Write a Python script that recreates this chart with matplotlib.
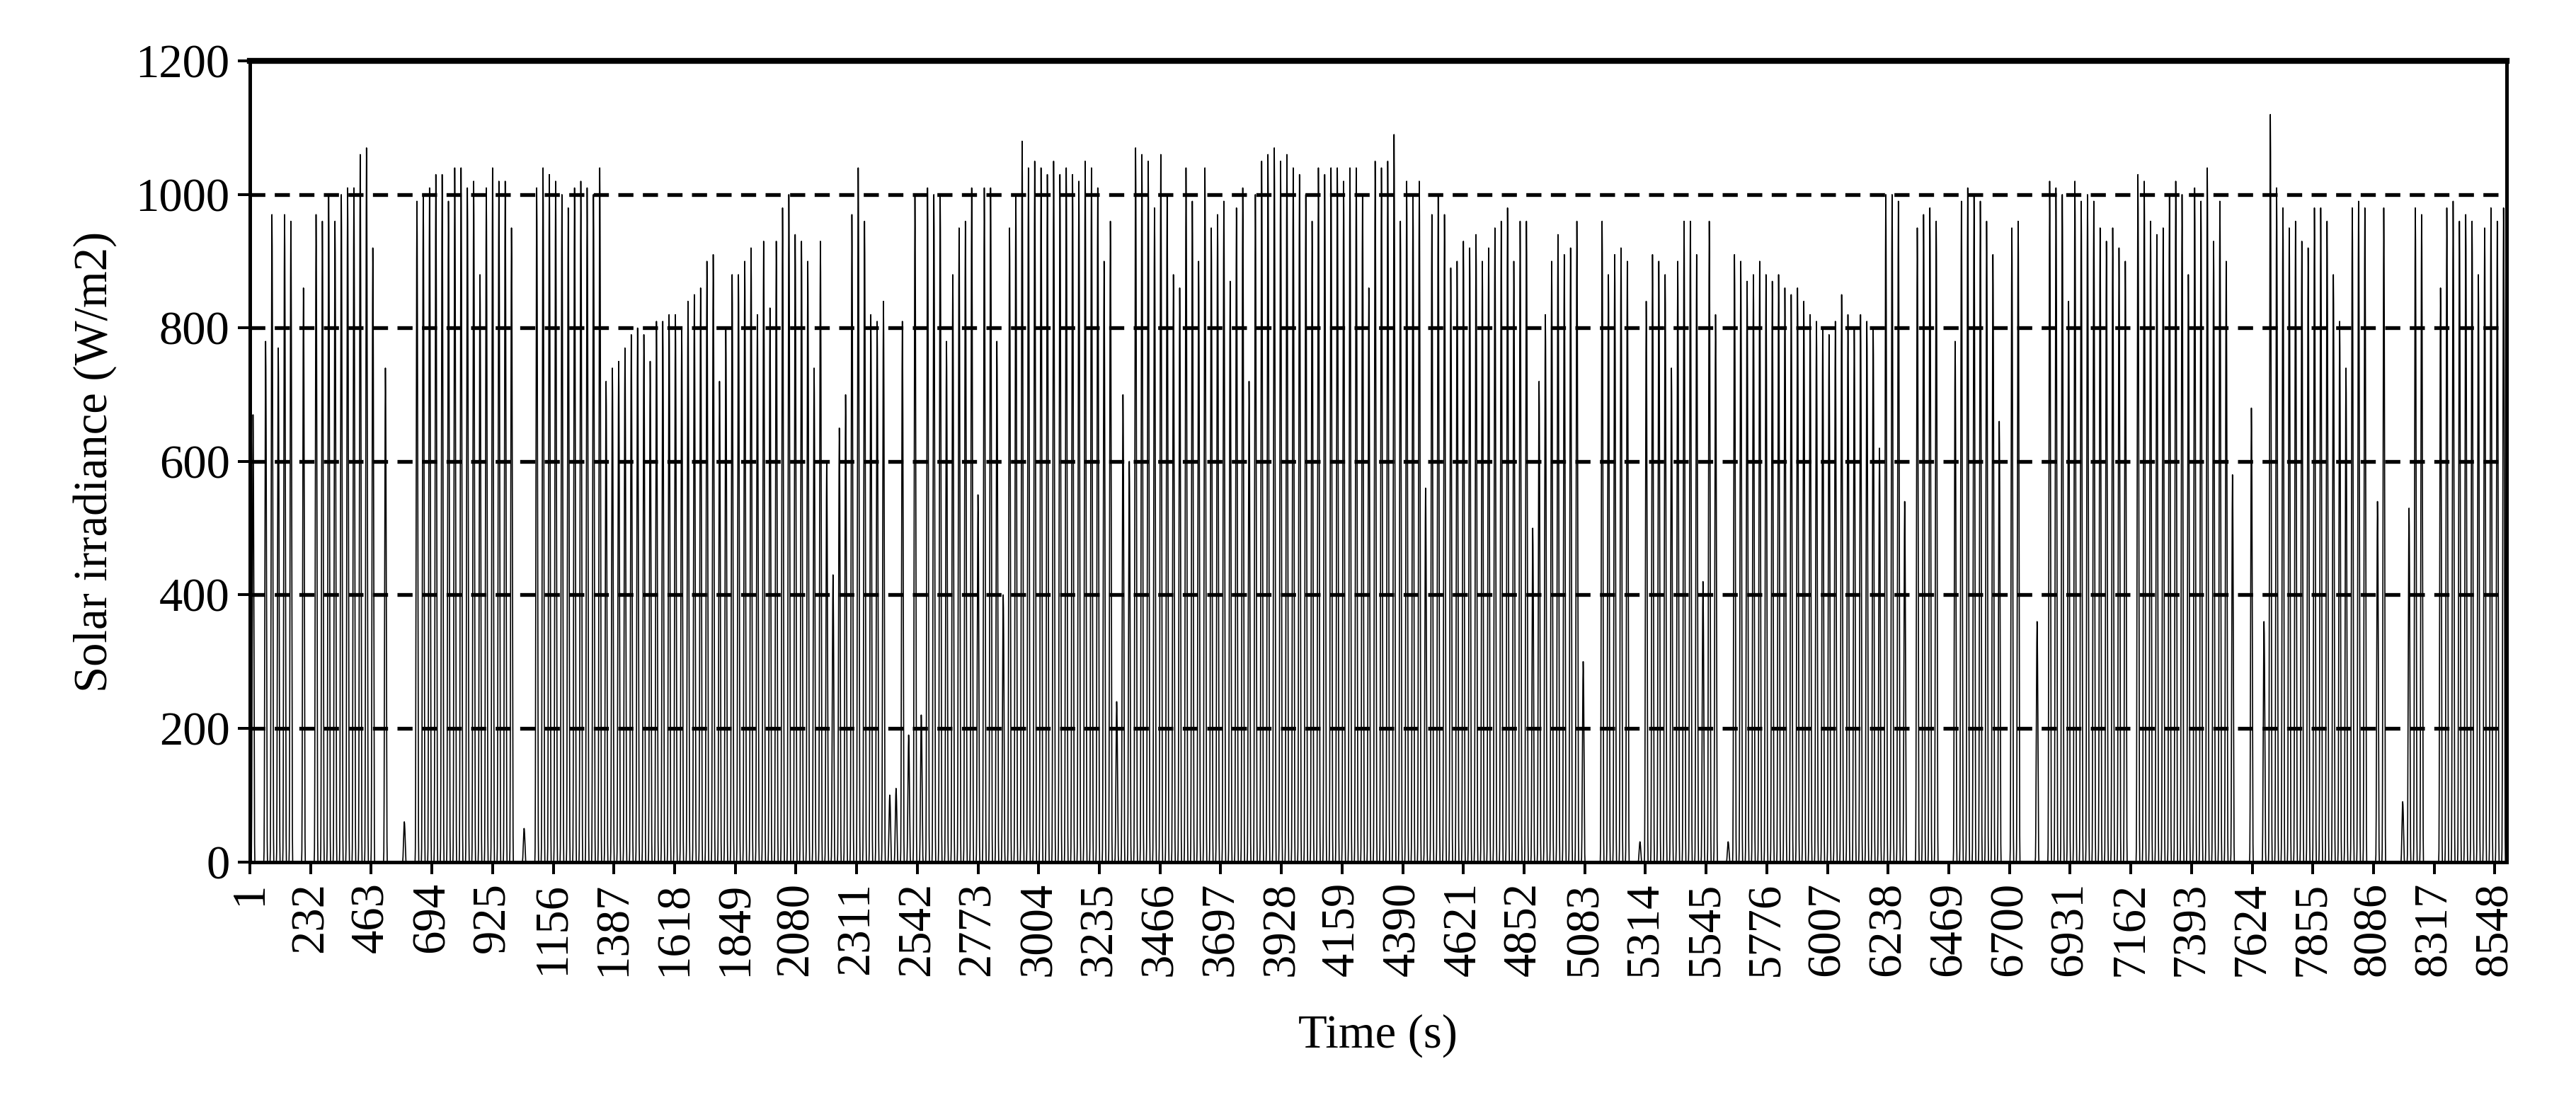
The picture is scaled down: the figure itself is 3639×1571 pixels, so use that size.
import numpy as np
import matplotlib.pyplot as plt

plt.rcParams['font.family'] = ['Liberation Serif', 'DejaVu Serif']

# daily peak irradiance (W/m2), one per day
daily_peak = [
    670, 0, 780, 970, 770, 970, 960, 0, 860, 0,
    970, 960, 1000, 960, 1000, 1010, 1010, 1060, 1070, 920,
    0, 740, 0, 0, 60, 0, 990, 1000, 1010,
    1030, 1030, 990, 1040, 1040, 1010, 1020, 880, 1010, 1040,
    1020, 1020, 950, 0, 50, 0, 1010, 1040, 1030,
    1020, 1000, 980, 1010, 1020, 1010, 1000, 1040, 720, 740,
    750, 770, 790, 800, 790, 750, 810, 810, 820, 820,
    800, 840, 850, 860, 900, 910, 720, 800, 880,
    880, 900, 920, 820, 930, 830, 930, 980, 1000, 940,
    930, 900, 740, 930, 600, 430, 650, 700, 970, 1040,
    960, 820, 810, 840, 100, 110, 810, 190, 1000,
    220, 1010, 1000, 1000, 780, 880, 950, 960, 1010, 550,
    1010, 1010, 780, 400, 950, 1000, 1080, 1040, 1050,
    1040, 1030, 1050, 1030, 1040, 1030, 1020, 1050, 1040, 1010,
    900, 960, 240, 700, 600, 1070, 1060, 1050, 980, 1060,
    1000, 880, 860, 1040, 990, 900, 1040, 950, 970,
    990, 870, 980, 1010, 720, 1000, 1050, 1060, 1070, 1050,
    1060, 1040, 1030, 1000, 960, 1040, 1030, 1040, 1040,
    1020, 1040, 1040, 1000, 860, 1050, 1040, 1050, 1090, 960,
    1020, 1000, 1020, 560, 970, 1000, 970, 890, 900, 930,
    920, 940, 900, 920, 950, 960, 980, 900, 960,
    960, 500, 720, 820, 900, 940, 910, 920, 960, 300,
    0, 0, 960, 880, 910, 920, 900, 0, 30, 840,
    910, 900, 880, 740, 900, 960, 960, 910, 420,
    960, 820, 0, 30, 910, 900, 870, 880, 900, 880,
    870, 880, 860, 850, 860, 840, 820, 810, 800, 790,
    810, 850, 820, 800, 820, 810, 800, 620, 1000,
    1000, 990, 540, 0, 950, 970, 980, 960, 0, 0,
    780, 990, 1010, 1000, 990, 960, 910, 660, 0, 950,
    960, 0, 0, 360, 0, 1020, 1010, 1000, 840,
    1020, 990, 1000, 990, 950, 930, 950, 920, 900, 0,
    1030, 1020, 960, 940, 950, 1000, 1020, 1000, 880, 1010,
    990, 1040, 930, 990, 900, 580, 0, 0, 680,
    0, 360, 1120, 1010, 980, 950, 960, 930, 920, 980,
    980, 960, 880, 810, 740, 980, 990, 980, 0, 540,
    980, 0, 0, 90, 530, 980, 970, 0, 0,
    860, 980, 990, 960, 970, 960, 880, 950, 980, 960,
    980, 970, 990, 980, 1000, 990, 530, 1000,
]

# fraction of the daily peak reached at each hour of the day
hour_shape = [0, 0, 0, 0, 0, 0, 0.02, 0.12, 0.33, 0.56, 0.76, 0.91,
              1.0, 0.95, 0.82, 0.62, 0.40, 0.18, 0.04, 0, 0, 0, 0, 0]

irr = np.outer(daily_peak, hour_shape).ravel()
hours = np.arange(1, len(irr) + 1)
tick_pos = np.arange(1, 8549, 231)

fig = plt.figure(figsize=(3639 / 240, 1571 / 240), dpi=240)
ax = fig.add_axes([0.097, 0.225, 0.876, 0.72])
ax.plot(hours, irr, color='black', lw=0.5)
for y in [200, 400, 600, 800, 1000]:
    ax.axhline(y, color='black', ls=(0, (4, 2.5)), lw=1.6, zorder=0)
ax.set_xlim(1, 8592)
ax.set_ylim(0, 1200)
ax.set_yticks(range(0, 1201, 200))
ax.set_xticks(tick_pos)
ax.set_xticklabels([str(t) for t in tick_pos], rotation=90)
ax.tick_params(labelsize=20, length=5, width=1.2)
ax.set_xlabel('Time (s)', fontsize=20, labelpad=16)
ax.set_ylabel('Solar irradiance (W/m2)', fontsize=20, labelpad=8)
for s in ax.spines.values():
    s.set_linewidth(1.5)
ax.spines['top'].set_linewidth(2.5)
fig.savefig('out.png', dpi=240)
